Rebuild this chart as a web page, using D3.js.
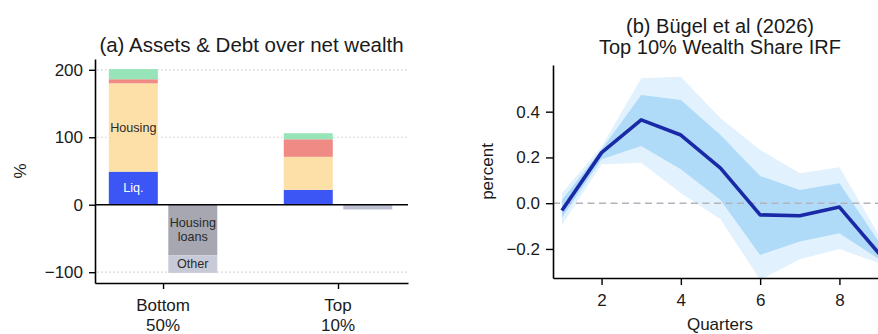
<!DOCTYPE html>
<html>
<head>
<meta charset="utf-8">
<script src="https://cdn.jsdelivr.net/npm/d3@7"></script>
<style>
  html, body { margin: 0; padding: 0; background: #fff; }
  svg { display: block; }
  text { font-family: "Liberation Sans", Arial, Helvetica, sans-serif; fill: #1a1a1a; }
</style>
</head>
<body>
<svg id="chart" width="878" height="334"></svg>
<script>
// ---- Panel (a): balance-sheet composition, % of net wealth ----
const groups = ["Bottom 50%", "Top 10%"];
const groupLabelLines = [["Bottom", "50%"], ["Top", "10%"]];
const assetLiquid = [49, 22];
const assetHousing = [131, 49];
const assetEquity = [6, 26];
const assetOther = [15, 9];
const debtHousingLoans = [-75, -2];
const debtOther = [-26, -5];
const leftTicks = [-100, 0, 100, 200];

// ---- Panel (b): impulse response of the top-10% wealth share ----
const quarters = [1, 2, 3, 4, 5, 6, 7, 8, 9];
const irf = [-0.032, 0.221, 0.364, 0.298, 0.153, -0.051, -0.055, -0.017, -0.22];
const band68Lo = [-0.064, 0.192, 0.25, 0.148, 0.014, -0.226, -0.168, -0.131, -0.245];
const band68Hi = [0.014, 0.235, 0.473, 0.451, 0.298, 0.119, 0.058, 0.087, -0.17];
const band90Lo = [-0.095, 0.17, 0.177, 0.044, -0.07, -0.335, -0.245, -0.2, -0.262];
const band90Hi = [0.043, 0.247, 0.546, 0.553, 0.371, 0.233, 0.131, 0.157, -0.14];
const rightYTicks = [-0.2, 0.0, 0.2, 0.4];
const rightXTicks = [2, 4, 6, 8];

const svg = d3.select("#chart");
const minus = s => s.replace("-", "\u2212");

const colors = {
  liquid: "#3c55f5", housing: "#fde0a7", equity: "#f08a85", other: "#97e4b8",
  housingLoans: "#a6a7b1", debtOther: "#c9cad7", topDebt: "#babdd0"
};

// ================= Panel (a) =================
const xA = d3.scaleLinear().domain([-0.389, 1.4]).range([95, 408]);
const yA = d3.scaleLinear().domain([-116, 216]).range([283, 59]);
const barW = 0.28, off = 0.17;

const gA = svg.append("g");

// dotted gridlines
gA.selectAll("line.grid").data(leftTicks.filter(d => d !== 0)).join("line")
  .attr("x1", xA.range()[0] + 2).attr("x2", xA.range()[1])
  .attr("y1", d => yA(d)).attr("y2", d => yA(d))
  .attr("stroke", "#cfcfcf").attr("stroke-width", 1.2).attr("stroke-dasharray", "1.5,2.5");

// stacked assets
const assetLayers = [
  { vals: assetLiquid, color: colors.liquid },
  { vals: assetHousing, color: colors.housing },
  { vals: assetEquity, color: colors.equity },
  { vals: assetOther, color: colors.other }
];
groups.forEach((g, i) => {
  let base = 0;
  assetLayers.forEach(layer => {
    const v = layer.vals[i];
    gA.append("rect")
      .attr("x", xA(i - off - barW / 2))
      .attr("width", xA(barW) - xA(0))
      .attr("y", yA(base + v))
      .attr("height", yA(base) - yA(base + v))
      .attr("fill", layer.color);
    base += v;
  });
  // stacked debt (negative)
  let dbase = 0;
  [{ vals: debtHousingLoans, color: colors.housingLoans },
   { vals: debtOther, color: colors.debtOther }].forEach(layer => {
    const v = layer.vals[i];
    gA.append("rect")
      .attr("x", xA(i + off - barW / 2))
      .attr("width", xA(barW) - xA(0))
      .attr("y", yA(dbase))
      .attr("height", yA(dbase + v) - yA(dbase))
      .attr("fill", i === 1 ? colors.topDebt : layer.color);
    dbase += v;
  });
});

// in-bar labels
const lab = (x, y, lines, fill) => {
  const t = gA.append("text").attr("text-anchor", "middle")
    .style("font-size", "12.6px").style("fill", fill || "#2a2a2a");
  lines.forEach((s, k) => {
    t.append("tspan").attr("x", x).attr("y", y + (k - (lines.length - 1) / 2) * 14.3 + 4.5).text(s);
  });
};
lab(xA(0 - off), yA(assetLiquid[0] + assetHousing[0] / 2), ["Housing"]);
lab(xA(0 - off), yA(assetLiquid[0] / 2) - 1, ["Liq."], "#ffffff");
lab(xA(0 + off), yA(debtHousingLoans[0] / 2) - 0.5, ["Housing", "loans"]);
lab(xA(0 + off), yA(debtHousingLoans[0] + debtOther[0] / 2) - 1, ["Other"]);

// zero line
gA.append("line")
  .attr("x1", xA.range()[0]).attr("x2", xA.range()[1])
  .attr("y1", yA(0)).attr("y2", yA(0))
  .attr("stroke", "#000").attr("stroke-width", 1.6);

// axes
const axA_y = gA.append("g").attr("transform", `translate(${xA.range()[0]},0)`)
  .call(d3.axisLeft(yA).tickValues(leftTicks).tickSize(6).tickSizeOuter(0).tickPadding(6)
    .tickFormat(d => minus(String(d))));
const axA_x = gA.append("g").attr("transform", `translate(0,${yA.range()[0]})`)
  .call(d3.axisBottom(xA).tickValues([0, 1]).tickSize(6).tickSizeOuter(0).tickFormat(""));
[axA_y, axA_x].forEach(ax => {
  ax.select(".domain").attr("stroke", "#000").attr("stroke-width", 1.6);
  ax.selectAll(".tick line").attr("stroke", "#000").attr("stroke-width", 1.4);
  ax.selectAll(".tick text").style("font-size", "17px").style("fill", "#1a1a1a")
    .style("font-family", '"Liberation Sans", Arial, sans-serif');
});
groupLabelLines.forEach((lines, i) => {
  lines.forEach((t, k) => {
    gA.append("text").attr("x", xA(i)).attr("y", 311 + k * 19.5)
      .attr("text-anchor", "middle").style("font-size", "17px").text(t);
  });
});
gA.append("text").attr("transform", `translate(26,${(yA.range()[0] + yA.range()[1]) / 2}) rotate(-90)`)
  .attr("text-anchor", "middle").style("font-size", "17px").text("%");
gA.append("text").attr("x", (xA.range()[0] + xA.range()[1]) / 2).attr("y", 52)
  .attr("text-anchor", "middle").style("font-size", "20.5px")
  .text("(a) Assets & Debt over net wealth");

// ================= Panel (b) =================
const xB = d3.scaleLinear().domain([0.775, 9.2]).range([553, 887]);
const yB = d3.scaleLinear().domain([-0.327, 0.604]).range([278, 65]);
const gB = svg.append("g");

svg.append("defs").append("clipPath").attr("id", "clipB")
  .append("rect").attr("x", xB.range()[0]).attr("y", yB.range()[1])
  .attr("width", xB.range()[1] - xB.range()[0]).attr("height", yB.range()[0] - yB.range()[1]);

const plotB = gB.append("g").attr("clip-path", "url(#clipB)");
const area = (lo, hi) => d3.area()
  .x((d, i) => xB(quarters[i])).y0((d, i) => yB(lo[i])).y1((d, i) => yB(hi[i]));

plotB.append("path").datum(quarters).attr("d", area(band90Lo, band90Hi)).attr("fill", "#e1f1fd");
plotB.append("path").datum(quarters).attr("d", area(band68Lo, band68Hi)).attr("fill", "#afdbf8");

plotB.append("line")
  .attr("x1", xB.range()[0]).attr("x2", xB.range()[1])
  .attr("y1", yB(0)).attr("y2", yB(0))
  .attr("stroke", "#b3b3bb").attr("stroke-width", 1.5).attr("stroke-dasharray", "7,4.5");

plotB.append("path").datum(irf)
  .attr("d", d3.line().x((d, i) => xB(quarters[i])).y(d => yB(d)))
  .attr("fill", "none").attr("stroke", "#1a2aa6").attr("stroke-width", 3.6)
  .attr("stroke-linejoin", "round");

const axB_y = gB.append("g").attr("transform", `translate(${xB.range()[0]},0)`)
  .call(d3.axisLeft(yB).tickValues(rightYTicks).tickSize(7).tickSizeOuter(0).tickPadding(6)
    .tickFormat(d => minus(d3.format(".1f")(d))));
const axB_x = gB.append("g").attr("transform", `translate(0,${yB.range()[0]})`)
  .call(d3.axisBottom(xB).tickValues(rightXTicks).tickSize(7).tickSizeOuter(0).tickPadding(9)
    .tickFormat(d3.format("d")));
[axB_y, axB_x].forEach(ax => {
  ax.select(".domain").attr("stroke", "#000").attr("stroke-width", 1.6);
  ax.selectAll(".tick line").attr("stroke", "#000").attr("stroke-width", 1.4);
  ax.selectAll(".tick text").style("font-size", "17px").style("fill", "#1a1a1a")
    .style("font-family", '"Liberation Sans", Arial, sans-serif');
});
gB.append("text").attr("transform", `translate(493,${(yB.range()[0] + yB.range()[1]) / 2}) rotate(-90)`)
  .attr("text-anchor", "middle").style("font-size", "17px").text("percent");
gB.append("text").attr("x", (xB.range()[0] + xB.range()[1]) / 2).attr("y", 330)
  .attr("text-anchor", "middle").style("font-size", "17px").text("Quarters");
gB.append("text").attr("x", 720).attr("y", 33).attr("text-anchor", "middle")
  .style("font-size", "20px").text("(b) Bügel et al (2026)");
gB.append("text").attr("x", 720).attr("y", 54).attr("text-anchor", "middle")
  .style("font-size", "20px").text("Top 10% Wealth Share IRF");
</script>
</body>
</html>
